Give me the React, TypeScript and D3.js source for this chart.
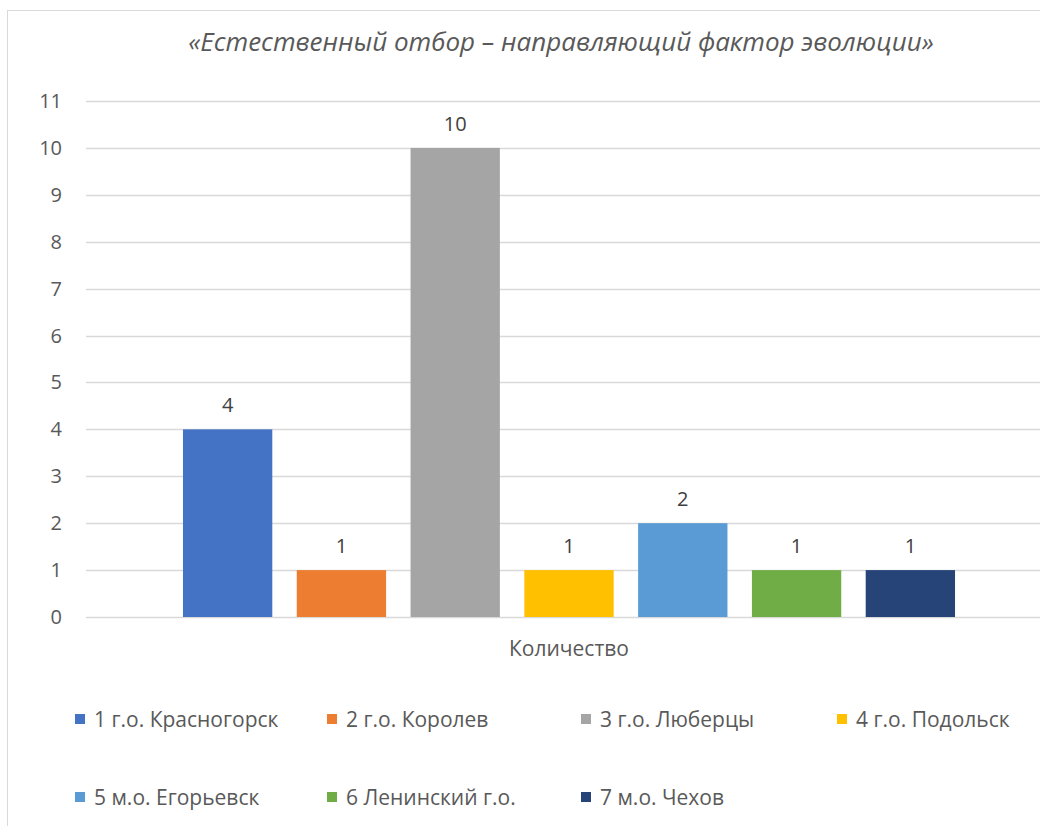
import React, { useEffect, useRef } from 'react';
import * as d3 from 'd3';

const title = '«Естественный отбор – направляющий фактор эволюции»';
const categories = ['Количество'];
const seriesNames = [
  '1 г.о. Красногорск',
  '2 г.о. Королев',
  '3 г.о. Люберцы',
  '4 г.о. Подольск',
  '5 м.о. Егорьевск',
  '6 Ленинский г.о.',
  '7 м.о. Чехов',
];
const seriesValues = [4, 1, 10, 1, 2, 1, 1];
const seriesColors = ['#4472C4', '#ED7D31', '#A5A5A5', '#FFC000', '#5B9BD5', '#70AD47', '#264478'];
const yTicks = [0, 1, 2, 3, 4, 5, 6, 7, 8, 9, 10, 11];

const App = () => {
  const ref = useRef<SVGSVGElement>(null);

  useEffect(() => {
    const width = 1040;
    const height = 826;
    const font = '"Open Sans", "Noto Sans", sans-serif';
    const textColor = '#595959';
    const left = 86;
    const right = 1052;
    const top = 101;
    const bottom = 617;

    const svg = d3.select(ref.current).attr('width', width).attr('height', height);
    svg.selectAll('*').remove();

    // chart area border
    svg
      .append('rect')
      .attr('x', 7.5)
      .attr('y', 10.5)
      .attr('width', width + 20)
      .attr('height', height + 20)
      .attr('fill', 'white')
      .attr('stroke', '#d9d9d9')
      .attr('stroke-width', 1);

    svg
      .append('text')
      .attr('x', 561)
      .attr('y', 51)
      .attr('text-anchor', 'middle')
      .attr('font-family', font)
      .attr('font-style', 'italic')
      .attr('font-size', 26)
      .attr('fill', textColor)
      .text(title);

    const y = d3.scaleLinear().domain([0, 11]).range([bottom, top]);
    const x0 = d3.scaleBand().domain(categories).range([left, right]).paddingInner(0).paddingOuter(0.1256);
    const x1 = d3.scaleBand().domain(seriesNames).range([0, x0.bandwidth()]).paddingInner(0.215).paddingOuter(0);

    // gridlines
    svg
      .append('g')
      .selectAll('line')
      .data(yTicks)
      .enter()
      .append('line')
      .attr('x1', left)
      .attr('x2', width)
      .attr('y1', d => Math.round(y(d)) + 0.5)
      .attr('y2', d => Math.round(y(d)) + 0.5)
      .attr('stroke', '#d9d9d9')
      .attr('stroke-width', 1.3);

    // y tick labels
    svg
      .append('g')
      .selectAll('text')
      .data(yTicks)
      .enter()
      .append('text')
      .attr('x', 62)
      .attr('y', d => y(d) + 7)
      .attr('text-anchor', 'end')
      .attr('font-family', font)
      .attr('font-size', 20)
      .attr('fill', textColor)
      .text(d => d);

    const bars = svg
      .append('g')
      .selectAll('g')
      .data(categories)
      .enter()
      .append('g')
      .attr('transform', c => `translate(${x0(c)},0)`);

    bars
      .selectAll('rect')
      .data(seriesNames.map((name, i) => ({ name, value: seriesValues[i], color: seriesColors[i] })))
      .enter()
      .append('rect')
      .attr('x', d => x1(d.name))
      .attr('y', d => y(d.value))
      .attr('width', x1.bandwidth())
      .attr('height', d => y(0) - y(d.value))
      .attr('fill', d => d.color);

    bars
      .selectAll('text.lbl')
      .data(seriesNames.map((name, i) => ({ name, value: seriesValues[i] })))
      .enter()
      .append('text')
      .attr('class', 'lbl')
      .attr('x', d => x1(d.name) + x1.bandwidth() / 2)
      .attr('y', d => y(d.value) - 17)
      .attr('text-anchor', 'middle')
      .attr('font-family', font)
      .attr('font-size', 20)
      .attr('fill', '#404040')
      .text(d => d.value);

    // category label
    svg
      .selectAll('text.cat')
      .data(categories)
      .enter()
      .append('text')
      .attr('class', 'cat')
      .attr('x', c => x0(c) + x0.bandwidth() / 2)
      .attr('y', 656)
      .attr('text-anchor', 'middle')
      .attr('font-family', font)
      .attr('font-size', 21)
      .attr('fill', textColor)
      .text(c => c);

    // legend
    const legendCols = [75, 327, 581, 837];
    const legendRows = [719, 797];
    const legend = svg
      .append('g')
      .selectAll('g')
      .data(seriesNames)
      .enter()
      .append('g')
      .attr('transform', (d, i) => `translate(${legendCols[i % 4]},${legendRows[Math.floor(i / 4)]})`);

    legend
      .append('rect')
      .attr('x', 0)
      .attr('y', -5)
      .attr('width', 10)
      .attr('height', 10)
      .attr('fill', (d, i) => seriesColors[i]);

    legend
      .append('text')
      .attr('x', 19)
      .attr('y', 8)
      .attr('font-family', font)
      .attr('font-size', 21)
      .attr('fill', textColor)
      .text(d => d);
  }, []);

  return (
    <div style={{ position: 'absolute', left: 0, top: 0 }}>
      <svg ref={ref} style={{ display: 'block' }}></svg>
    </div>
  );
};

export default App;
